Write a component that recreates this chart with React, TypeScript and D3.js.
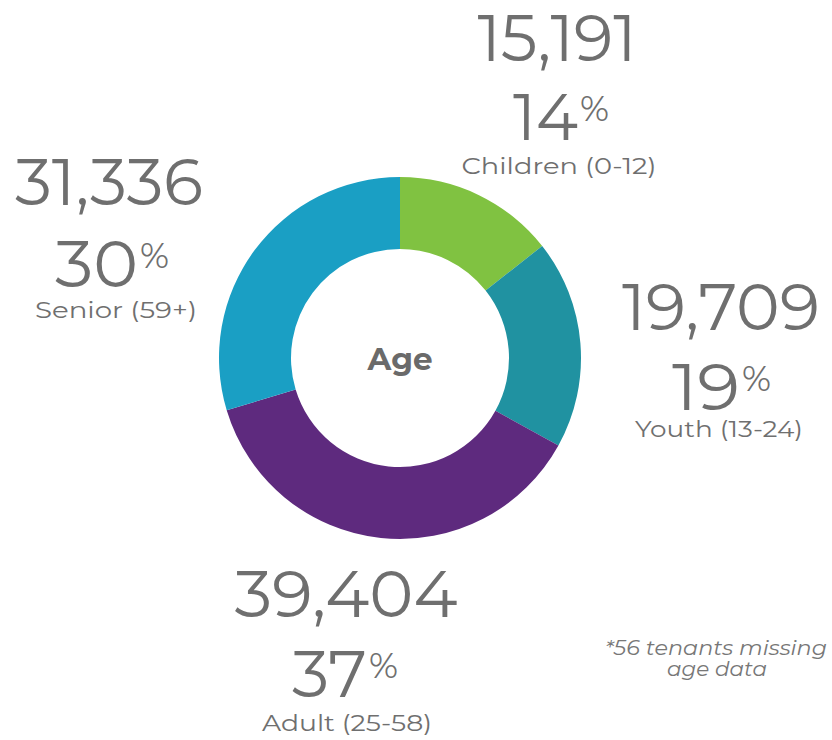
import React from "react";
import * as d3 from "d3";

const categories = ["Children (0-12)", "Youth (13-24)", "Adult (25-58)", "Senior (59+)"];
const counts = [15191, 19709, 39404, 31336];
const percents = [14, 19, 37, 30];
const sliceColors = ["#80C241", "#2092A1", "#5E2A7E", "#1A9FC4"];
const centerLabel = "Age";
const footnoteLines = ["*56 tenants missing", "age data"];

// layout (positions only)
const W = 832, H = 740;
const CX = 400, CY = 358, R_OUT = 181, R_IN = 109;
const labelLayout: Record<string, any> = {
  "Children (0-12)": { nx: 557, ny: 61, nw: 159, pr: 578, py: 140, pw: 65, lx: 559, ly: 174, lw: 195 },
  "Youth (13-24)": { nx: 721, ny: 330, nw: 198, pr: 740, py: 410, pw: 68, lx: 719, ly: 437, lw: 168 },
  "Adult (25-58)": { nx: 346, ny: 617, nw: 223, pr: 367, py: 697, pw: 75, lx: 347, ly: 731, lw: 170 },
  "Senior (59+)": { nx: 109, ny: 205, nw: 188, pr: 138, py: 287, pw: 83, lx: 116, ly: 318, lw: 162 },
};

const FONT = "Montserrat, 'Open Sans', Lato, 'DejaVu Sans', sans-serif";
const TEXT = "#6f6f6f";

export default function App() {
  const data = categories.map((c, i) => ({ cat: c, value: counts[i], pct: percents[i], color: sliceColors[i] }));
  const pie = d3.pie<any>().sort(null).value((d) => d.value);
  const arcs = pie(data);
  const arc = d3.arc<any>().innerRadius(R_IN).outerRadius(R_OUT);
  const fmt = d3.format(",");

  return (
    <svg width={W} height={H} style={{ position: "absolute", left: 0, top: 0, background: "#fff" }} fontFamily={FONT}>
      <g transform={`translate(${CX},${CY})`}>
        {arcs.map((a, i) => (
          <path key={i} d={arc(a) as string} fill={a.data.color} />
        ))}
        <text x={0} y={12} textAnchor="middle" fontSize={30} fontWeight={700} fill="#6a6a6a" textLength={65} lengthAdjust="spacingAndGlyphs">
          {centerLabel}
        </text>
      </g>
      {data.map((d) => {
        const L = labelLayout[d.cat];
        return (
          <g key={d.cat} fill={TEXT}>
            <text x={L.nx} y={L.ny} textAnchor="middle" fontSize={66} fontWeight={400} textLength={L.nw} lengthAdjust="spacingAndGlyphs">
              {fmt(d.value)}
            </text>
            <text x={L.pr} y={L.py} textAnchor="end" fontSize={66} fontWeight={400} textLength={L.pw} lengthAdjust="spacingAndGlyphs">
              {String(d.pct)}
            </text>
            <text x={L.pr + 2} y={L.py - 19} textAnchor="start" fontSize={36} fontWeight={400} textLength={29} lengthAdjust="spacingAndGlyphs">
              %
            </text>
            <text x={L.lx} y={L.ly} textAnchor="middle" fontSize={22} fontWeight={400} textLength={L.lw} lengthAdjust="spacingAndGlyphs">
              {d.cat}
            </text>
          </g>
        );
      })}
      <g fill="#777777" fontStyle="italic" fontSize={20} fontWeight={400}>
        <text x={716} y={655} textAnchor="middle" textLength={222} lengthAdjust="spacingAndGlyphs">{footnoteLines[0]}</text>
        <text x={717} y={676} textAnchor="middle" textLength={100} lengthAdjust="spacingAndGlyphs">{footnoteLines[1]}</text>
      </g>
    </svg>
  );
}
